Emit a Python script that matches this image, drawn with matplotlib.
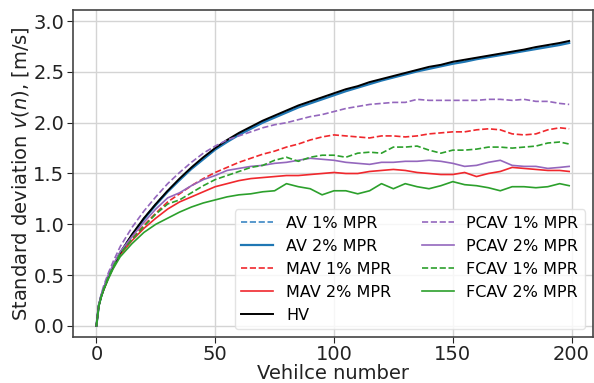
import numpy as np
import matplotlib
matplotlib.use("Agg")
import matplotlib.pyplot as plt

veh = [0, 1, 2, 3, 5, 7, 10, 15, 20, 25, 30, 35, 40, 45, 50, 55, 60, 65, 70, 75, 80,
       85, 90, 95, 100, 105, 110, 115, 120, 125, 130, 135, 140, 145, 150, 155, 160,
       165, 170, 175, 180, 185, 190, 195, 199]

hv = [0, 0.20, 0.29, 0.36, 0.48, 0.58, 0.72, 0.90, 1.06, 1.20, 1.33, 1.45, 1.56, 1.66, 1.75,
      1.83, 1.90, 1.96, 2.02, 2.07, 2.12, 2.17, 2.21, 2.25, 2.29, 2.33, 2.36, 2.40, 2.43,
      2.46, 2.49, 2.52, 2.55, 2.57, 2.60, 2.62, 2.64, 2.66, 2.68, 2.70, 2.72, 2.745, 2.765,
      2.785, 2.805]
av1 = [0, 0.20, 0.29, 0.36, 0.48, 0.58, 0.72, 0.90, 1.06, 1.20, 1.33, 1.44, 1.55, 1.65, 1.74,
       1.82, 1.89, 1.95, 2.01, 2.06, 2.11, 2.16, 2.20, 2.24, 2.28, 2.32, 2.35, 2.39, 2.42,
       2.45, 2.48, 2.51, 2.54, 2.56, 2.59, 2.61, 2.63, 2.65, 2.67, 2.69, 2.71, 2.735, 2.755,
       2.775, 2.795]
av2 = [0, 0.20, 0.29, 0.36, 0.48, 0.58, 0.71, 0.89, 1.05, 1.19, 1.32, 1.435, 1.545, 1.64,
       1.735, 1.81, 1.88, 1.94, 2.00, 2.05, 2.10, 2.15, 2.19, 2.23, 2.27, 2.31, 2.345, 2.38,
       2.415, 2.445, 2.475, 2.505, 2.53, 2.555, 2.58, 2.60, 2.625, 2.645, 2.665, 2.685,
       2.705, 2.725, 2.745, 2.765, 2.785]
mav1 = [0, 0.20, 0.29, 0.36, 0.48, 0.58, 0.71, 0.86, 0.99, 1.11, 1.22, 1.30, 1.38, 1.45, 1.51,
        1.56, 1.61, 1.65, 1.69, 1.72, 1.76, 1.79, 1.83, 1.86, 1.88, 1.87, 1.86, 1.85, 1.87,
        1.87, 1.86, 1.87, 1.89, 1.90, 1.91, 1.91, 1.93, 1.94, 1.93, 1.89, 1.88, 1.89, 1.93,
        1.95, 1.94]
mav2 = [0, 0.20, 0.29, 0.35, 0.47, 0.57, 0.70, 0.84, 0.96, 1.06, 1.15, 1.22, 1.27, 1.32, 1.37,
        1.40, 1.43, 1.45, 1.46, 1.47, 1.48, 1.48, 1.49, 1.50, 1.51, 1.50, 1.50, 1.52, 1.53,
        1.54, 1.53, 1.51, 1.50, 1.49, 1.49, 1.51, 1.47, 1.50, 1.52, 1.56, 1.55, 1.54, 1.53,
        1.53, 1.52]
pcav1 = [0, 0.21, 0.31, 0.39, 0.52, 0.63, 0.78, 0.97, 1.13, 1.27, 1.40, 1.51, 1.61, 1.70, 1.77,
         1.83, 1.87, 1.91, 1.95, 1.98, 2.00, 2.03, 2.06, 2.08, 2.11, 2.14, 2.16, 2.18, 2.19,
         2.20, 2.20, 2.23, 2.22, 2.22, 2.22, 2.22, 2.22, 2.23, 2.23, 2.22, 2.23, 2.21, 2.21,
         2.19, 2.18]
pcav2 = [0, 0.20, 0.30, 0.37, 0.50, 0.60, 0.73, 0.88, 1.02, 1.15, 1.26, 1.31, 1.38, 1.44, 1.48,
         1.53, 1.55, 1.57, 1.58, 1.60, 1.61, 1.63, 1.65, 1.64, 1.63, 1.61, 1.60, 1.59, 1.61,
         1.61, 1.62, 1.62, 1.63, 1.62, 1.60, 1.57, 1.58, 1.61, 1.63, 1.58, 1.57, 1.57, 1.55,
         1.56, 1.57]
fcav1 = [0, 0.20, 0.29, 0.36, 0.48, 0.58, 0.71, 0.85, 0.98, 1.10, 1.20, 1.24, 1.31, 1.38, 1.44,
         1.48, 1.52, 1.56, 1.58, 1.63, 1.66, 1.62, 1.66, 1.68, 1.68, 1.66, 1.70, 1.71, 1.70,
         1.76, 1.76, 1.77, 1.73, 1.70, 1.73, 1.73, 1.74, 1.76, 1.76, 1.75, 1.76, 1.77, 1.80,
         1.81, 1.79]
fcav2 = [0, 0.19, 0.28, 0.35, 0.46, 0.56, 0.68, 0.81, 0.92, 1.00, 1.06, 1.12, 1.17, 1.21, 1.24,
         1.27, 1.29, 1.30, 1.32, 1.33, 1.40, 1.37, 1.35, 1.29, 1.33, 1.33, 1.30, 1.33, 1.40,
         1.35, 1.40, 1.37, 1.35, 1.38, 1.42, 1.39, 1.38, 1.36, 1.33, 1.37, 1.37, 1.36, 1.37,
         1.40, 1.38]

fig = plt.figure(figsize=(5.94, 3.83), dpi=100)
ax = fig.add_axes([0.1225, 0.12, 0.8755, 0.854])

ax.plot(veh, av1, '--', color='#3b86c4', lw=1.2, label='AV 1% MPR')
ax.plot(veh, av2, '-', color='#1f77b4', lw=1.6, label='AV 2% MPR')
ax.plot(veh, mav1, '--', color='#f0282d', lw=1.2, label='MAV 1% MPR')
ax.plot(veh, mav2, '-', color='#f0282d', lw=1.2, label='MAV 2% MPR')
ax.plot(veh, hv, '-', color='black', lw=1.4, label='HV')
ax.plot(veh, pcav1, '--', color='#9467bd', lw=1.2, label='PCAV 1% MPR')
ax.plot(veh, pcav2, '-', color='#9467bd', lw=1.2, label='PCAV 2% MPR')
ax.plot(veh, fcav1, '--', color='#2ca02c', lw=1.2, label='FCAV 1% MPR')
ax.plot(veh, fcav2, '-', color='#2ca02c', lw=1.2, label='FCAV 2% MPR')

ax.set_xlim(-9.95, 208.95)
ax.set_ylim(-0.11, 3.11)
ax.set_xticks([0, 50, 100, 150, 200])
ax.set_yticks([0, 0.5, 1.0, 1.5, 2.0, 2.5, 3.0])
ax.grid(True, color='#d4d4d4', lw=1)
ax.set_axisbelow(True)
for s in ax.spines.values():
    s.set_color('#444444')
    s.set_linewidth(1.2)
ax.tick_params(labelsize=14, colors='#222222', length=4, pad=2)
ax.set_xlabel('Vehilce number', fontsize=14, color='#222222', labelpad=0)
ax.set_ylabel('Standard deviation $v(n)$, [m/s]', fontsize=14, color='#222222', labelpad=2)

leg = ax.legend(ncol=2, loc='lower right', fontsize=11.5, columnspacing=1.9,
                labelspacing=0.5, handletextpad=0.8)
leg.get_frame().set_edgecolor('#dddddd')

fig.savefig('out.png', dpi=100)
